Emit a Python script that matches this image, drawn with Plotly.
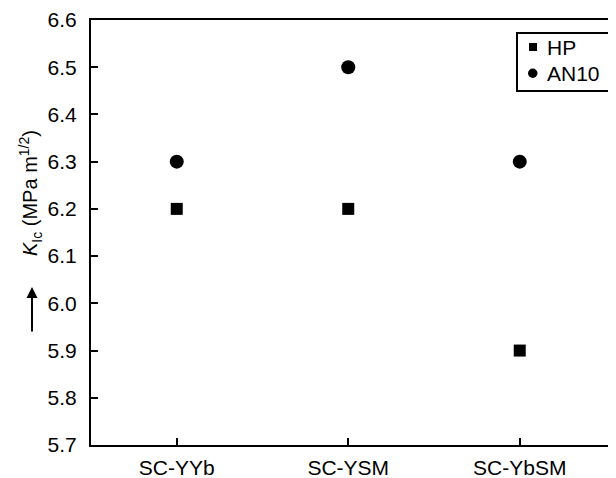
import plotly.graph_objects as go

categories = ["SC-YYb", "SC-YSM", "SC-YbSM"]
hp_values = [6.2, 6.2, 5.9]
an10_values = [6.3, 6.5, 6.3]
y_ticks = [5.7, 5.8, 5.9, 6.0, 6.1, 6.2, 6.3, 6.4, 6.5, 6.6]
series_names = ["HP", "AN10"]

FONT = "Liberation Sans, Arial, Helvetica, sans-serif"
OFF = 8  # page body margin

fig = go.Figure()
fig.add_trace(go.Scatter(x=[0, 1, 2], y=hp_values, mode="markers", name=series_names[0],
                         marker=dict(symbol="square", size=12, color="black")))
fig.add_trace(go.Scatter(x=[0, 1, 2], y=an10_values, mode="markers", name=series_names[1],
                         marker=dict(symbol="circle", size=14, color="black")))

W, H = 616 - OFF, 478 - OFF
L, R, T, B = 91 - OFF, 0, 20 - OFF, 33
pw, ph = W - L - R, H - T - B

def px_x(x):
    return (x - OFF - L) / pw

def px_y(y):
    return (H - B - (y - OFF)) / ph

fig.update_layout(
    width=W, height=H,
    margin=dict(l=L, r=R, t=T, b=B),
    plot_bgcolor="white", paper_bgcolor="white",
    font=dict(family=FONT, size=20, color="black"),
    showlegend=False,
    xaxis=dict(range=[-0.5, -0.5 + pw / 171.5], tickvals=[0, 1, 2], ticktext=categories,
               ticks="inside", ticklen=7, tickwidth=1.5, tickcolor="black",
               showline=True, linecolor="black", linewidth=2, mirror=True,
               showgrid=False, zeroline=False, ticklabelstandoff=3,
               tickfont=dict(size=21)),
    yaxis=dict(range=[5.7, 6.6], tickvals=y_ticks, tickformat=".1f",
               ticks="inside", ticklen=7, tickwidth=1.5, tickcolor="black",
               showline=True, linecolor="black", linewidth=2, mirror=False,
               showgrid=False, zeroline=False, ticklabelstandoff=8,
               tickfont=dict(size=21)),
)

# legend drawn manually (box, symbols, labels)
fig.add_shape(type="rect", xref="paper", yref="paper",
              x0=px_x(517), x1=px_x(609), y0=px_y(91), y1=px_y(33),
              line=dict(color="black", width=2), fillcolor="white", layer="above")
fig.add_shape(type="rect", xref="paper", yref="paper",
              x0=px_x(529), x1=px_x(537), y0=px_y(51), y1=px_y(43),
              line=dict(width=0), fillcolor="black", layer="above")
fig.add_shape(type="circle", xref="paper", yref="paper",
              x0=px_x(528), x1=px_x(537.5), y0=px_y(78), y1=px_y(68.5),
              line=dict(width=0), fillcolor="black", layer="above")
for name, yc in zip(series_names, [47.5, 73]):
    fig.add_annotation(xref="paper", yref="paper", x=px_x(545), y=px_y(yc),
                       text=name, showarrow=False, xanchor="left", yanchor="middle",
                       font=dict(size=21, family=FONT))

fig.add_annotation(xref="paper", yref="paper", x=px_x(30), y=px_y(193),
                   text="<i>K</i><sub>Ic</sub> (MPa m<sup>1/2</sup>)", textangle=-90,
                   showarrow=False, font=dict(size=20, family=FONT),
                   xanchor="center", yanchor="middle")
fig.add_annotation(xref="paper", yref="paper", x=px_x(32), y=px_y(287),
                   ax=0, ay=46, axref="pixel", ayref="pixel", text="",
                   showarrow=True, arrowhead=2, arrowsize=1.1, arrowwidth=2,
                   arrowcolor="black")

fig.write_html("out.html")
